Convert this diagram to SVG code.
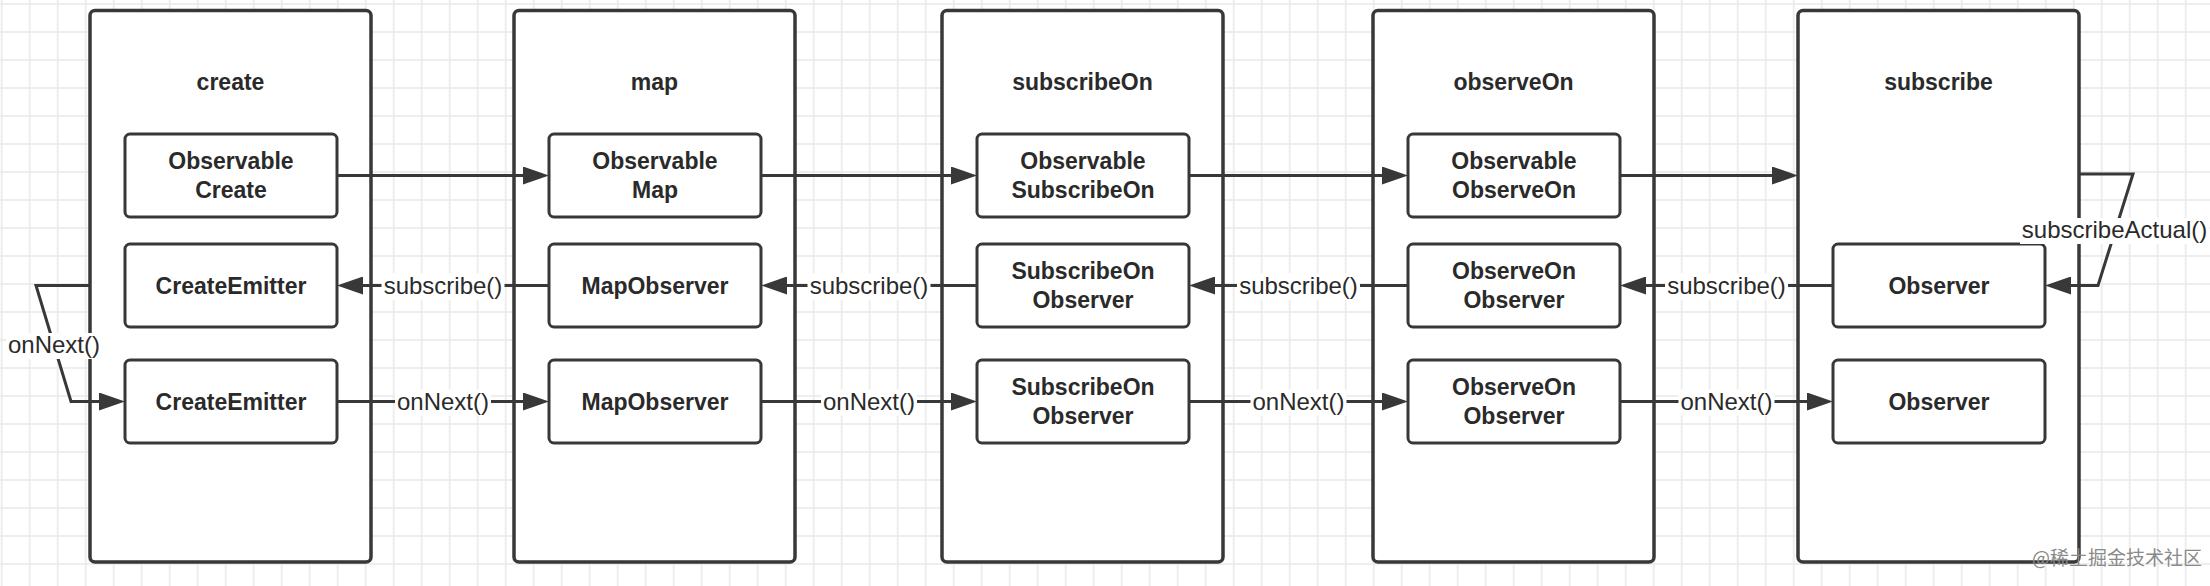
<svg xmlns="http://www.w3.org/2000/svg" width="2210" height="586" viewBox="0 0 2210 586">
<style>
.container{fill:#fff;stroke:#383838;stroke-width:3.5}
.box{fill:#fff;stroke:#383838;stroke-width:3}
.title,.node{font-family:"Liberation Sans",Arial,sans-serif;font-weight:bold;font-size:23px;fill:#2a2a2a;text-anchor:middle}
.edge{fill:none;stroke:#383838;stroke-width:3}
.lbl{font-family:"Liberation Sans",Arial,sans-serif;font-size:24px;fill:#2a2a2a;text-anchor:middle}
.lblbg{fill:#fff}
.wm{font-family:"Noto Sans CJK SC","Noto Sans",sans-serif;font-size:19px;fill:#8a8a8a}
</style>
<defs>
<pattern id="grid" width="28" height="28" patternUnits="userSpaceOnUse" x="-12.3" y="-10">
<path d="M14,0 V28 M0,14 H28" stroke="#e9e9e9" stroke-width="1.5" fill="none"/>
</pattern>
<marker id="arr" markerUnits="userSpaceOnUse" markerWidth="26" markerHeight="18" refX="16" refY="9" orient="auto" viewBox="0 0 26 18">
<path d="M0,0 L26,9 L0,18 Z" fill="#383838"/>
</marker>
</defs>
<rect width="2210" height="586" fill="#fff"/>
<rect width="2210" height="586" fill="url(#grid)"/>

<g id="create">
<rect class="container" x="90" y="10.5" width="281" height="551.5" rx="5"/>
<text class="title" x="230.5" y="90">create</text>
<rect class="box" x="125" y="134" width="212" height="83" rx="5"/>
<text class="node" x="231" y="168.5">Observable</text>
<text class="node" x="231" y="197.5">Create</text>
<rect class="box" x="125" y="244" width="212" height="83" rx="5"/>
<text class="node" x="231" y="293.5">CreateEmitter</text>
<rect class="box" x="125" y="360" width="212" height="83" rx="5"/>
<text class="node" x="231" y="409.5">CreateEmitter</text>
</g>

<g id="map">
<rect class="container" x="514" y="10.5" width="281" height="551.5" rx="5"/>
<text class="title" x="654.5" y="90">map</text>
<rect class="box" x="549" y="134" width="212" height="83" rx="5"/>
<text class="node" x="655" y="168.5">Observable</text>
<text class="node" x="655" y="197.5">Map</text>
<rect class="box" x="549" y="244" width="212" height="83" rx="5"/>
<text class="node" x="655" y="293.5">MapObserver</text>
<rect class="box" x="549" y="360" width="212" height="83" rx="5"/>
<text class="node" x="655" y="409.5">MapObserver</text>
</g>

<g id="subscribeOn">
<rect class="container" x="942" y="10.5" width="281" height="551.5" rx="5"/>
<text class="title" x="1082.5" y="90">subscribeOn</text>
<rect class="box" x="977" y="134" width="212" height="83" rx="5"/>
<text class="node" x="1083" y="168.5">Observable</text>
<text class="node" x="1083" y="197.5">SubscribeOn</text>
<rect class="box" x="977" y="244" width="212" height="83" rx="5"/>
<text class="node" x="1083" y="278.5">SubscribeOn</text>
<text class="node" x="1083" y="307.5">Observer</text>
<rect class="box" x="977" y="360" width="212" height="83" rx="5"/>
<text class="node" x="1083" y="394.5">SubscribeOn</text>
<text class="node" x="1083" y="423.5">Observer</text>
</g>

<g id="observeOn">
<rect class="container" x="1373" y="10.5" width="281" height="551.5" rx="5"/>
<text class="title" x="1513.5" y="90">observeOn</text>
<rect class="box" x="1408" y="134" width="212" height="83" rx="5"/>
<text class="node" x="1514" y="168.5">Observable</text>
<text class="node" x="1514" y="197.5">ObserveOn</text>
<rect class="box" x="1408" y="244" width="212" height="83" rx="5"/>
<text class="node" x="1514" y="278.5">ObserveOn</text>
<text class="node" x="1514" y="307.5">Observer</text>
<rect class="box" x="1408" y="360" width="212" height="83" rx="5"/>
<text class="node" x="1514" y="394.5">ObserveOn</text>
<text class="node" x="1514" y="423.5">Observer</text>
</g>

<g id="subscribe">
<rect class="container" x="1798" y="10.5" width="281" height="551.5" rx="5"/>
<text class="title" x="1938.5" y="90">subscribe</text>
<rect class="box" x="1833" y="244" width="212" height="83" rx="5"/>
<text class="node" x="1939" y="293.5">Observer</text>
<rect class="box" x="1833" y="360" width="212" height="83" rx="5"/>
<text class="node" x="1939" y="409.5">Observer</text>
</g>

<g id="connectors">
<path class="edge" marker-end="url(#arr)" d="M337,175.5 H539"/>
<path class="edge" marker-end="url(#arr)" d="M761,175.5 H967"/>
<path class="edge" marker-end="url(#arr)" d="M1189,175.5 H1398"/>
<path class="edge" marker-end="url(#arr)" d="M1620,175.5 H1788"/>

<path class="edge" marker-end="url(#arr)" d="M549,285.5 H347"/>
<path class="edge" marker-end="url(#arr)" d="M977,285.5 H771"/>
<path class="edge" marker-end="url(#arr)" d="M1408,285.5 H1199"/>
<path class="edge" marker-end="url(#arr)" d="M1833,285.5 H1630"/>

<path class="edge" marker-end="url(#arr)" d="M337,401.5 H539"/>
<path class="edge" marker-end="url(#arr)" d="M761,401.5 H967"/>
<path class="edge" marker-end="url(#arr)" d="M1189,401.5 H1398"/>
<path class="edge" marker-end="url(#arr)" d="M1620,401.5 H1823"/>

<path class="edge" marker-end="url(#arr)" d="M90,285.5 H36 L71,401.5 H115"/>
<path class="edge" marker-end="url(#arr)" d="M2079,174 H2133 L2098,285.5 H2055"/>

<rect class="lblbg" x="381.5" y="273.5" width="123" height="26"/>
<text class="lbl" x="443" y="293.5">subscribe()</text>
<rect class="lblbg" x="807.5" y="273.5" width="123" height="26"/>
<text class="lbl" x="869" y="293.5">subscribe()</text>
<rect class="lblbg" x="1237" y="273.5" width="123" height="26"/>
<text class="lbl" x="1298.5" y="293.5">subscribe()</text>
<rect class="lblbg" x="1665" y="273.5" width="123" height="26"/>
<text class="lbl" x="1726.5" y="293.5">subscribe()</text>

<rect class="lblbg" x="395" y="389.5" width="96" height="26"/>
<text class="lbl" x="443" y="409.5">onNext()</text>
<rect class="lblbg" x="821" y="389.5" width="96" height="26"/>
<text class="lbl" x="869" y="409.5">onNext()</text>
<rect class="lblbg" x="1250.5" y="389.5" width="96" height="26"/>
<text class="lbl" x="1298.5" y="409.5">onNext()</text>
<rect class="lblbg" x="1678.5" y="389.5" width="96" height="26"/>
<text class="lbl" x="1726.5" y="409.5">onNext()</text>

<rect class="lblbg" x="6" y="333" width="96" height="26"/>
<text class="lbl" x="54" y="353">onNext()</text>
<rect class="lblbg" x="2020" y="218" width="189" height="26"/>
<text class="lbl" x="2114.5" y="238">subscribeActual()</text>
</g>

<text class="wm" x="2032" y="565">@稀土掘金技术社区</text>
</svg>
